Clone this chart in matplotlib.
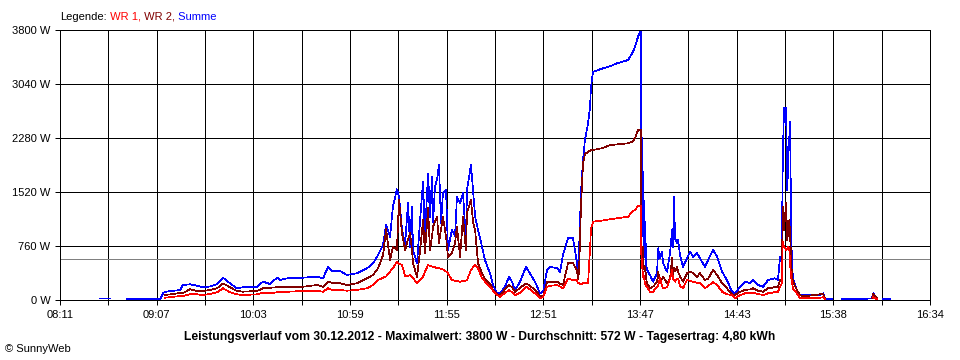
import numpy as np
import matplotlib
matplotlib.use("Agg")
import matplotlib.pyplot as plt

plt.rcParams['font.family'] = ['Liberation Sans', 'DejaVu Sans']
plt.rcParams['lines.antialiased'] = False

# time in minutes after midnight
t_min = [514.1, 519.9, 520.0, 529.7, 547.7, 549.0, 550.6,
         551.7, 560.4, 562.1, 566.2, 570.2, 573.7, 577.7, 581.8, 585.2, 589.3,
         593.3, 596.8, 604.9, 608.4, 612.4, 616.5, 618.2, 624.0, 631.5, 639.6,
         643.1, 646.0, 648.3, 652.9, 656.9, 662.7, 668.5, 672.0, 674.9, 677.8,
         679.5, 681.8, 683.5, 685.8, 687.0, 688.7, 690.5, 692.2, 693.4, 694.5,
         695.1, 697.4, 699.2, 700.9, 702.0, 703.8, 704.9, 706.1, 706.7, 707.8,
         709.0, 710.1, 711.3, 712.4, 714.2, 715.3, 717.6, 719.4, 720.5, 722.3,
         724.0, 725.7, 726.3, 728.6, 729.8, 731.0, 732.7, 735.0, 736.7, 739.6,
         741.4, 743.7, 745.4, 748.3, 750.6, 752.3, 754.1, 757.0, 760.4, 762.7,
         765.6, 768.5, 770.3, 772.6, 774.3, 778.4, 780.1, 781.8, 784.7, 787.6,
         789.9, 790.5, 791.1, 792.2, 793.4, 794.5, 796.3, 797.4, 798.0, 799.2,
         805.0, 809.0, 813.1, 819.5, 821.8, 823.5, 825.2, 826.4, 827.0,
         827.1, 827.5, 827.8, 828.1, 828.4, 828.7, 829.0, 829.3, 829.9, 830.4,
         832.1, 833.9, 836.2, 836.8, 837.9, 839.1, 839.7, 842.0, 843.7, 844.9,
         845.4, 846.0, 846.6, 847.7, 848.3, 849.5, 851.2, 853.5, 855.3, 857.0,
         859.3, 861.0, 863.9, 865.7, 868.6, 870.9, 873.8, 876.6, 879.5, 881.3,
         884.2, 887.1, 890.0, 891.7, 894.6, 897.5, 900.4, 904.4, 906.1, 907.3,
         908.3, 908.9, 909.6, 910.8, 911.5, 912.1, 912.7, 913.1, 913.7, 914.2,
         915.0, 917.0, 918.9, 920.6, 927.0, 930.4, 932.2, 933.3, 934.5, 937.4,
         937.5, 943.2, 953.6, 960.5, 961.1, 963.4, 963.5, 966.8, 970.9]

summe = [20, 20, None, 10, 10, 15, 95,
         115, 141, 211, 221, 201, 179, 190, 221, 314, 235,
         165, 179, 187, 258, 225, 314, 281, 314, 314, 328,
         305, 469, 408, 408, 352, 376, 446, 517, 633, 780,
         1060, 891, 1313, 1558, 1454, 1000, 774, 1365, 750, 1313,
         704, 517, 1126, 1665, 891, 1783, 1172, 1735, 1100, 1595,
         1700, 1900, 1084, 1506, 1548, 704, 985, 900, 1454, 1365,
         1506, 844, 1548, 1900, 1548, 1172, 985, 750, 563, 376,
         211, 94, 94, 187, 328, 258, 141, 258, 469, 376,
         258, 94, 117, 422, 469, 446, 398, 633, 868, 868,
         520, 400, 700, 1506, 1970, 2252, 2487, 2700, 3002, 3213,
         3261, 3290, 3331, 3378, 3472, 3565, 3706, 3776, 3800,
         700, 2276, 900, 1800, 700, 1400, 600, 1100, 500, 422,
         352, 258, 376, 728, 587, 680, 517, 398, 657, 985,
         750, 1454, 868, 798, 844, 633, 469, 587, 680, 609,
         657, 587, 469, 563, 704, 609, 398, 281, 117, 94,
         187, 258, 235, 281, 211, 187, 281, 305, 281, 609,
         609, 2017, 2698, 2698, 1548, 2017, 2300, 2509, 1084, 469,
         281, 141, 70, 70, 70, 70, 94, 24, 10, 10,
         None, 10, 10, 24, 94, 24, None, 10, 10]

wr2 = [None, None, None, None, None, None, None,
       70, 98, 98, 151, 127, 127, 140, 165, 235, 179,
       127, 117, 127, 165, 173, 180, 187, 187, 187, 211,
       187, 258, 243, 235, 211, 235, 305, 352, 446, 633,
       1000, 563, 750, 704, 1407, 943, 700, 850, 943, 700,
       517, 328, 700, 1126, 661, 1295, 704, 900, 1032, 1100,
       1172, 802, 1000, 1172, 891, 609, 661, 800, 1032, 609,
       1172, 704, 1224, 1407, 1100, 985, 517, 376, 300, 230,
       141, 80, 70, 150, 211, 180, 117, 170, 235, 200,
       141, 60, 46, 258, 258, 258, 230, 211, 517, 517,
       420, 300, 400, 1313, 1924, 2050, 2087, 2100, 2111, 2111,
       2140, 2181, 2190, 2205, 2230, 2276, 2393, 2400, 2400,
       750, 600, 750, 750, 500, 450, 400, 469, 300, 235,
       165, 190, 250, 398, 258, 300, 328, 235, 300, 587,
       328, 450, 400, 469, 400, 328, 258, 376, 398, 380,
       328, 376, 281, 300, 422, 352, 235, 165, 80, 70,
       117, 141, 150, 165, 130, 117, 165, 180, 187, 281,
       281, 1313, 985, 1361, 844, 1000, 1126, 900, 609, 328,
       250, 141, 70, 50, 70, 80, 80, 30, None, None,
       None, None, None, 20, 80, 20, None, None, None]

wr1 = [None, None, None, None, None, None, None,
       32, 56, 56, 80, 80, 70, 85, 108, 165, 108,
       80, 70, 80, 103, 94, 108, 110, 117, 127, 127,
       117, 165, 141, 141, 131, 141, 165, 211, 281, 314,
       330, 400, 446, 539, 510, 493, 340, 340, 352, 330,
       310, 235, 280, 328, 400, 493, 480, 470, 469, 460,
       450, 446, 440, 430, 400, 376, 281, 270, 265, 258,
       265, 275, 281, 422, 460, 493, 446, 305, 260, 187,
       130, 70, 46, 100, 141, 110, 70, 100, 187, 150,
       94, 24, 40, 187, 200, 211, 190, 165, 300, 281,
       281, 235, 235, 220, 235, 235, 235, 700, 1000, 1102,
       1120, 1136, 1150, 1172, 1243, 1270, 1323, 1330, 1330,
       650, 500, 420, 328, 350, 300, 260, 230, 200, 187,
       117, 117, 187, 200, 305, 200, 165, 180, 300, 422,
       300, 280, 258, 300, 305, 200, 165, 281, 270, 258,
       240, 235, 165, 200, 250, 211, 117, 80, 70, 24,
       70, 94, 100, 103, 85, 70, 94, 110, 117, 187,
       235, 821, 750, 704, 720, 750, 700, 500, 328, 235,
       150, 94, 24, 24, 24, 30, 40, 20, None, None,
       None, None, None, None, 40, 10, None, None, None]

x_start, x_end = 491, 994
x_labels = ["08:11", "09:07", "10:03", "10:59", "11:55",
            "12:51", "13:47", "14:43", "15:38", "16:34"]
y_ticks = [0, 760, 1520, 2280, 3040, 3800]
y_labels = ["0 W", "760 W", "1520 W", "2280 W", "3040 W", "3800 W"]
average_w = 572
title = ("Leistungsverlauf vom 30.12.2012 - Maximalwert: 3800 W - "
         "Durchschnitt: 572 W - Tagesertrag: 4,80 kWh")

t = np.array(t_min, dtype=float)
s = np.array(summe, dtype=float)
w2 = np.array(wr2, dtype=float)
w1 = np.array(wr1, dtype=float)

fig = plt.figure(figsize=(9.6, 3.6), dpi=100)
ax = fig.add_axes([60 / 960, 60 / 360, 870 / 960, 270 / 360])

ax.set_xlim(x_start, x_end)
ax.set_ylim(0, 3800)

xt = np.linspace(x_start, x_end, 19)
xl = []
for i in range(19):
    xl.append(x_labels[i // 2] if i % 2 == 0 else "")
ax.set_xticks(xt, xl)
ax.set_yticks(y_ticks, y_labels)

lw = 0.72
dlw = 0.5
ax.grid(True, color='black', linewidth=lw, zorder=0)
ax.set_axisbelow(True)
for sp in ax.spines.values():
    sp.set_color('black')
    sp.set_linewidth(lw)
ax.tick_params(direction='out', length=3.6, width=lw, color='black',
               labelsize=8, labelcolor='black')
ax.tick_params(axis='y', pad=3.2)
ax.tick_params(axis='x', pad=3.5)

ax.axhline(average_w, color='#808080', linewidth=lw, zorder=1.5)

ax.plot(t, s, color='#0000FF', linewidth=dlw, zorder=2)
ax.plot(t, w2, color='#800000', linewidth=dlw, zorder=3)
ax.plot(t, w1, color='#FF0000', linewidth=dlw, zorder=4)

# legend line
t0 = fig.text(60 / 960, 1 - 16.5 / 360, "Legende:", color='black',
              fontsize=8, va='center', ha='left')
prev = t0
for txt, col in [(" WR 1,", '#FF0000'), (" WR 2,", '#800000'), (" Summe", '#0000FF')]:
    prev = ax.annotate(txt, xy=(1, 0), xycoords=prev, va='bottom', ha='left',
                       fontsize=8, color=col, annotation_clip=False)

fig.text(0.5, 1 - 337 / 360, title, ha='center', va='center',
         fontsize=8.7, fontweight='bold')
fig.text(5 / 960, 1 - 349 / 360, "© SunnyWeb", ha='left', va='center', fontsize=8)

fig.savefig("out.png", dpi=100)
